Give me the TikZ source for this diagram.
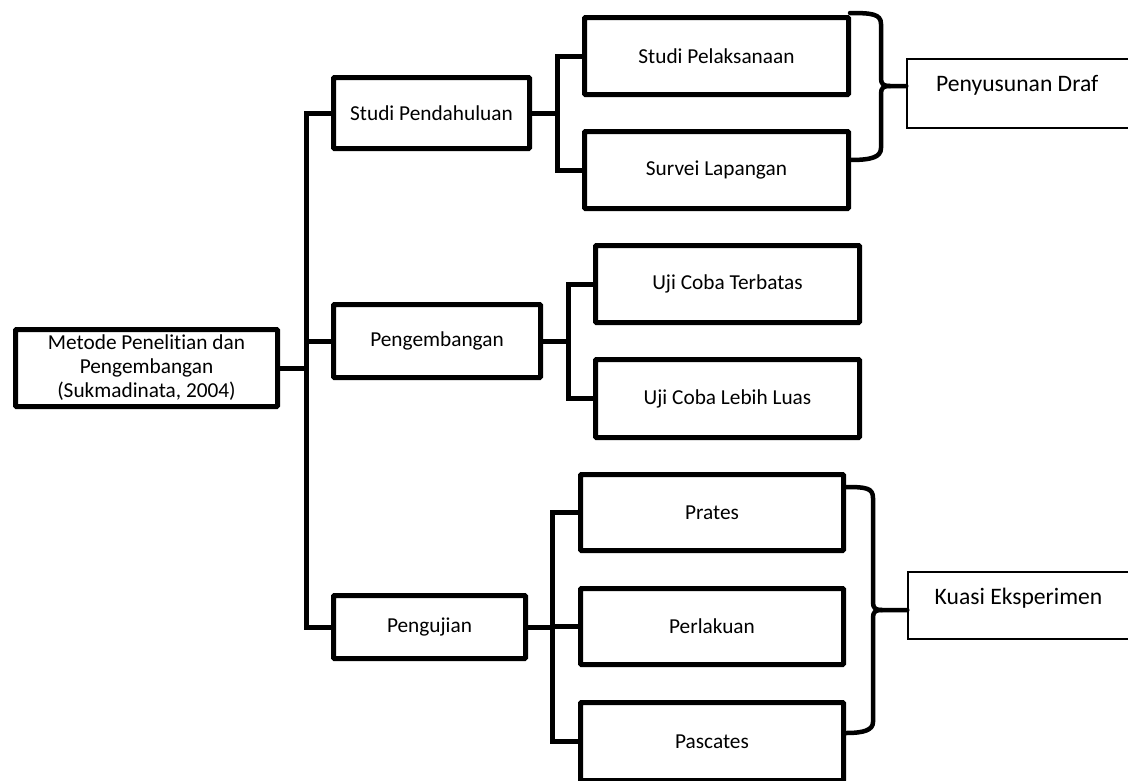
\documentclass[tikz,border=0pt]{standalone}
\usepackage{fontspec}
\setmainfont{Carlito}[Ligatures=NoCommon]
\begin{document}
\begin{tikzpicture}[x=1pt,y=-1pt,
  box/.style={draw, line width=5pt, rounded corners=1pt, inner sep=0pt, align=center,
    font=\fontsize{21.3}{24}\selectfont},
  thinbox/.style={draw, line width=1.4pt, inner sep=0pt},
  bigtext/.style={inner sep=0pt, anchor=west, font=\fontsize{23.6}{28}\selectfont},
  conn/.style={line width=5pt},
  brace/.style={line width=4.5pt, line cap=round, line join=round}]
\useasboundingbox (0,0) rectangle (1128,780);

% level 0
\node[box, minimum width=262, minimum height=77] (root) at (146.5,368)
  {Metode Penelitian dan\\Pengembangan\\(Sukmadinata, 2004)};

% level 1
\node[box, minimum width=196, minimum height=71] (sp) at (431.5,113) {Studi Pendahuluan};
\node[box, minimum width=207, minimum height=73] (pg) at (437,341) {Pengembangan};
\node[box, minimum width=192, minimum height=63] (pj) at (429.5,627) {Pengujian};

% level 2
\node[box, minimum width=264, minimum height=77] (spl) at (716.5,56) {Studi Pelaksanaan};
\node[box, minimum width=264, minimum height=77] (svl) at (716.5,170) {Survei Lapangan};
\node[box, minimum width=264, minimum height=77] (ujt) at (727.5,284) {Uji Coba Terbatas};
\node[box, minimum width=264, minimum height=78] (ujl) at (727.5,398.5) {Uji Coba Lebih Luas};
\node[box, minimum width=263, minimum height=76] (prt) at (712,512.5) {Prates};
\node[box, minimum width=263, minimum height=76] (prl) at (712,626.5) {Perlakuan};
\node[box, minimum width=263, minimum height=78] (psc) at (712,741.5) {Pascates};

% result boxes
\node[thinbox, minimum width=224, minimum height=69] (draf) at (1019,93.5) {};
\node[bigtext] (drafT) at (936,85) {Penyusunan Draf};
\node[thinbox, minimum width=223, minimum height=67] (kuasi) at (1019.5,605.5) {};
\node[bigtext] (kuasiT) at (934.5,598) {Kuasi Eksperimen};

% trunk
\coordinate (trunk) at (306,368);
\draw[conn] (sp.west) -| (trunk) |- (pj.west);
\draw[conn] (root.east) -- (trunk);
\draw[conn] (pg.west) -- (pg.west -| trunk);

% studi group
\coordinate (j1) at (557,113);
\draw[conn] (sp.east) -- (j1);
\draw[conn] (spl.west) -| (j1) |- (svl.west);

% pengembangan group
\coordinate (j2) at (568,341);
\draw[conn] (pg.east) -- (j2);
\draw[conn] (ujt.west) -| (j2) |- (ujl.west);

% pengujian group
\coordinate (j3) at (552,627);
\draw[conn] (pj.east) -- (j3);
\draw[conn] (prt.west) -| (j3) |- (psc.west);
\draw[conn] (prl.west) -- (prl.west -| j3);

% brace 1
\coordinate (t1y) at (0,86);
\coordinate (tip1) at (draf.west |- t1y);
\draw[brace] (850,13) .. controls (872,13) and (881,14) .. (881,24)
  -- (881,78) .. controls (881,84) and (883,86) .. (890,86) -- (tip1);
\draw[brace] (890,86) .. controls (883,86) and (881,88) .. (881,94)
  -- (881,148) .. controls (881,157) and (872,160) .. (850,160);

% brace 2
\coordinate (t2y) at (0,610);
\coordinate (tip2) at (kuasi.west |- t2y);
\draw[brace] (846,487) .. controls (866,487) and (873,488) .. (873,498)
  -- (873,602) .. controls (873,608) and (875,610) .. (882,610) -- (tip2);
\draw[brace] (882,610) .. controls (875,610) and (873,612) .. (873,618)
  -- (873,722) .. controls (873,730) and (864,733) .. (846,733);
\end{tikzpicture}
\end{document}
